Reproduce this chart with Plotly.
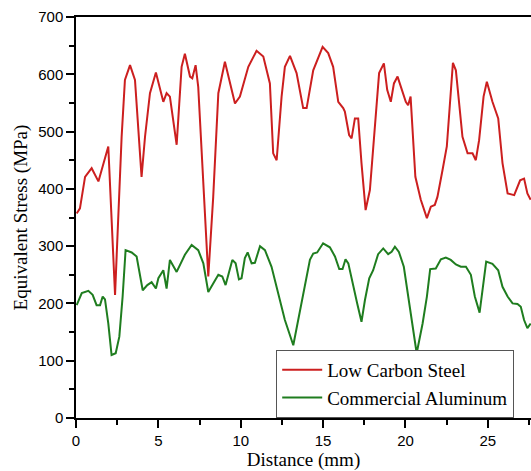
import plotly.graph_objects as go

# Low Carbon Steel
steel_x = [0.04, 0.24, 0.55, 0.95, 1.36, 1.66, 1.96, 2.37, 2.77, 2.97, 3.28, 3.58, 3.98, 4.19, 4.49,
           4.85, 5.10, 5.30, 5.50, 5.70, 6.11, 6.41, 6.61, 6.92, 7.06, 7.26, 7.42, 7.73, 8.03, 8.33,
           8.64, 9.04, 9.34, 9.65, 9.95, 10.46, 10.96, 11.37, 11.77, 11.97, 12.18, 12.48, 12.68, 12.99,
           13.39, 13.79, 14.00, 14.40, 14.97, 15.31, 15.61, 15.92, 16.22, 16.32, 16.58, 16.73, 16.93,
           17.13, 17.33, 17.58, 17.84, 18.14, 18.40, 18.69, 18.89, 19.11, 19.30, 19.52, 19.76, 20.02,
           20.16, 20.31, 20.60, 20.93, 21.30, 21.54, 21.78, 21.94, 22.25, 22.51, 22.88, 23.06, 23.46,
           23.77, 24.07, 24.27, 24.47, 24.74, 24.94, 25.28, 25.63, 25.89, 26.20, 26.60, 26.96, 27.20,
           27.40, 27.60]
steel_y = [357, 366, 421, 436, 413, 445, 474, 215, 491, 590, 616, 590, 421, 491, 567,
           603, 572, 552, 567, 561, 477, 613, 636, 596, 593, 616, 578, 421, 247, 386,
           567, 622, 584, 549, 561, 613, 641, 631, 584, 462, 450, 561, 613, 632,
           602, 541, 541, 607, 648, 637, 613, 552, 541, 535, 494, 488, 523,
           523, 445, 363, 398, 508, 602, 619, 573, 552, 584, 596, 575, 552,
           546, 561, 421, 381, 349, 369, 372, 386, 433, 474, 620, 607, 491,
           462, 462, 450, 485, 561, 587, 552, 523, 445, 392, 389, 415, 418,
           392, 381]

# Commercial Aluminum
alu_x = [0.04, 0.35, 0.75, 1.01, 1.25, 1.46, 1.62, 1.76, 1.96, 2.16, 2.41, 2.63, 2.83, 3.01, 3.38,
         3.68, 4.05, 4.33, 4.59, 4.85, 5.00, 5.14, 5.30, 5.50, 5.70, 6.11, 6.61, 7.02, 7.42, 7.73,
         8.03, 8.33, 8.64, 8.88, 9.08, 9.49, 9.69, 9.89, 10.05, 10.25, 10.42, 10.66, 10.86, 11.17,
         11.47, 11.87, 12.28, 12.68, 13.19, 13.49, 13.90, 14.20, 14.40, 14.64, 15.00, 15.41, 15.72,
         15.98, 16.18, 16.36, 16.53, 16.83, 17.07, 17.33, 17.54, 17.80, 18.04, 18.34, 18.65, 18.95,
         19.16, 19.36, 19.60, 19.90, 20.16, 20.47, 20.68, 21.04, 21.30, 21.50, 21.84, 22.15, 22.45,
         22.75, 23.06, 23.36, 23.67, 23.97, 24.21, 24.50, 24.68, 24.90, 25.28, 25.63, 25.89, 26.20,
         26.50, 26.80, 27.00, 27.20, 27.40, 27.60]
alu_y = [197, 218, 222, 215, 197, 197, 212, 207, 165, 110, 113, 142, 212, 293, 289,
         282, 223, 232, 237, 226, 244, 250, 258, 226, 276, 255, 285, 302, 293, 270,
         220, 235, 250, 247, 232, 276, 270, 242, 244, 279, 289, 270, 271, 300,
         293, 264, 218, 171, 127, 171, 235, 276, 287, 289, 305, 298, 282,
         260, 260, 277, 270, 229, 200, 168, 206, 244, 258, 286, 296, 286,
         290, 299, 290, 264, 212, 154, 113, 165, 212, 260, 261, 277, 280,
         276, 268, 264, 264, 250, 212, 184, 223, 273, 269, 258, 229, 212,
         200, 199, 194, 171, 157, 165]

x_ticks = [0, 5, 10, 15, 20, 25]
y_ticks = [0, 100, 200, 300, 400, 500, 600, 700]

serif = "Liberation Serif, Times New Roman, serif"
sans = "Liberation Sans, Arial, sans-serif"

fig = go.Figure()
fig.add_trace(go.Scatter(x=steel_x, y=steel_y, mode="lines", name="Low Carbon Steel",
                         line=dict(color="#cc1f1f", width=2)))
fig.add_trace(go.Scatter(x=alu_x, y=alu_y, mode="lines", name="Commercial Aluminum",
                         line=dict(color="#1f7d1f", width=2)))

fig.update_layout(
    width=531, height=471,
    margin=dict(l=76, r=0, t=17, b=53),
    paper_bgcolor="white", plot_bgcolor="white",
    showlegend=True,
    legend=dict(x=0.44, y=0.0, xanchor="left", yanchor="bottom",
                bgcolor="white", bordercolor="#555555", borderwidth=1,
                font=dict(family=serif, size=19, color="black"),
                tracegroupgap=0, itemwidth=40),
    xaxis=dict(range=[0, 27.62], tickmode="array", tickvals=x_ticks,
               showgrid=False, zeroline=False,
               showline=True, linecolor="black", linewidth=1.5, mirror=True,
               ticks="outside", ticklen=8, tickwidth=1.5, tickcolor="black",
               minor=dict(ticks="outside", ticklen=5, tickwidth=1.5, tickcolor="black", dtick=2.5),
               tickfont=dict(family=sans, size=15, color="black"),
               title=dict(text="Distance (mm)", font=dict(family=serif, size=19, color="black"),
                          standoff=8)),
    yaxis=dict(range=[0, 700], tickmode="array", tickvals=y_ticks,
               showgrid=False, zeroline=False,
               showline=True, linecolor="black", linewidth=1.5,
               ticks="outside", ticklen=8, tickwidth=1.5, tickcolor="black",
               minor=dict(ticks="outside", ticklen=5, tickwidth=1.5, tickcolor="black", dtick=50),
               tickfont=dict(family=sans, size=15, color="black"),
               title=dict(text="Equivalent Stress (MPa)", font=dict(family=serif, size=19, color="black"),
                          standoff=6)),
)

fig.write_html("out.html")
